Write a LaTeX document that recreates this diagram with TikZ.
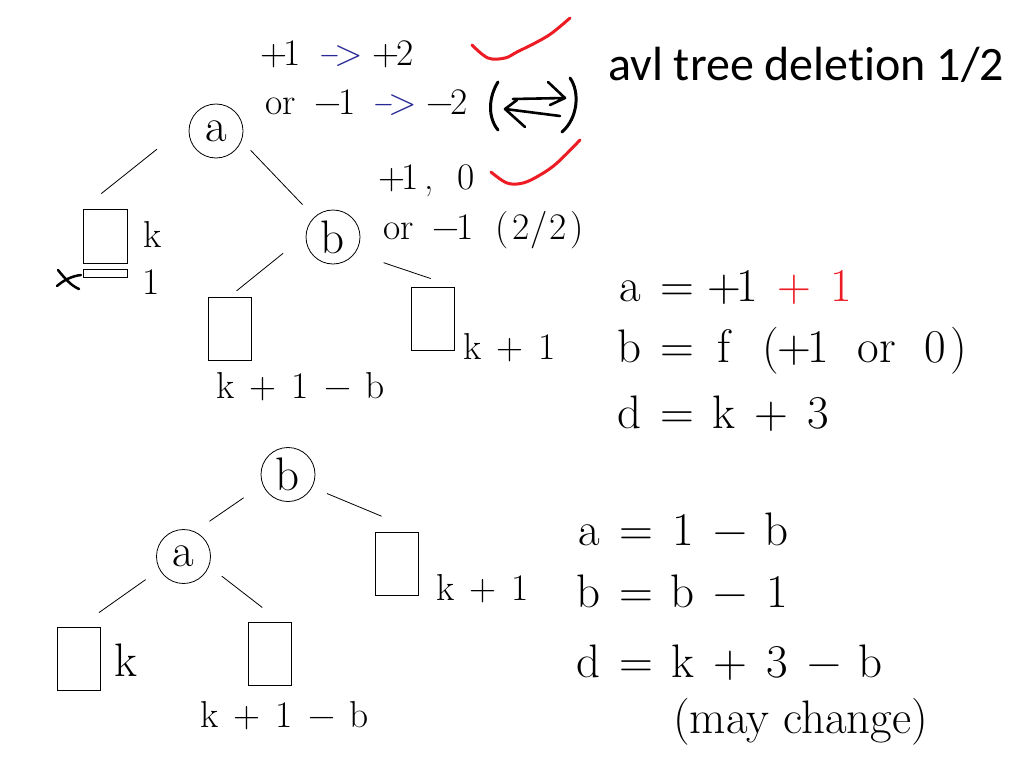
\documentclass[tikz,border=0pt]{standalone}
\usepackage{fontspec}
\newfontfamily\titlefont{Carlito}[Ligatures=NoCommon]
\usetikzlibrary{positioning,calc}
\definecolor{penred}{RGB}{237,28,36}
\definecolor{arrowblue}{RGB}{40,40,150}
\ExplSyntaxOn
\NewDocumentCommand{\mono}{m}{\str_map_inline:nn{#1}{\makebox[0.5em]{##1}}}
\ExplSyntaxOff
\newcommand{\toarrow}{\textcolor{arrowblue}{\makebox[0.5em]{\scalebox{0.7}[1]{−}}\makebox[0.5em]{>}}}
\newcommand{\orword}{\makebox[1em]{or}}
\begin{document}
\begin{tikzpicture}[x=1pt,y=-1pt,
    avl/.style={draw,circle,line width=0.8pt,minimum size=54pt,inner sep=0pt,font=\fontsize{47}{47}\selectfont},
    leaf/.style={draw,line width=0.9pt,minimum width=43pt,minimum height=63pt,inner sep=0pt},
    edge/.style={line width=0.8pt},
    small/.style={font=\fontsize{37.5}{40}\selectfont,anchor=base west,inner sep=0pt},
    large/.style={font=\fontsize{47}{50}\selectfont,anchor=base west,inner sep=0pt},
    pen/.style={line width=3pt,line cap=round,line join=round}]
        \useasboundingbox[fill=white] (0,0) rectangle (1024,768);
        \node[font=\titlefont\fontsize{48}{48}\selectfont,anchor=base west,inner sep=0pt] (title) at (608,81) {avl tree deletion 1/2};
        % before rotation
        \node[avl] (a) at (216,131) {a};
        \node[avl] (b) at (333,237) {b};
        \node[leaf,minimum width=44pt,minimum height=54pt] (L1) at (105,236) {};
        \node[leaf,minimum width=44pt,minimum height=8pt,below=6pt of L1] (X1) {};
        \node[leaf] (L2) at (229.5,328.5) {};
        \node[leaf] (R2) at (432.5,318.5) {};
        \draw[edge,shorten <=42pt,shorten >=24pt] (a.163) -- (L1.north west);
        \draw[edge,shorten <=13pt,shorten >=17pt] (a.-21) -- (b.133);
        \draw[edge,shorten <=29pt,shorten >=9pt] (b.176) -- (L2.north);
        \draw[edge,shorten <=30pt,shorten >=25pt] (b.-36) -- (R2.north east);
        \node[small] (kL1) at (143,247) {\mono{k}};
        \node[small] (oneX1) at (142,294) {\mono{1}};
        \node[small] (kL2) at (216,398) {\mono{k + 1 − b}};
        \node[small] (kR2) at (463,359) {\mono{k + 1}};
        \draw[pen,line width=2.5pt] (58,270) .. controls (66,280) and (72,286) .. (79,289);
        \draw[pen,line width=2.5pt] (57,286) .. controls (64,280) and (72,276) .. (81,275);
        \node[small] (c1) at (264,65) {\mono{+1 }\toarrow\mono{ +2}};
        \node[small] (c2) at (262,114) {\orword\mono{ −1 }\toarrow\mono{ −2}};
        \node[small] (c3) at (382,189) {\mono{+1, 0}};
        \node[small] (c4) at (380,239) {\orword\mono{ −1 (2/2)}};
        \draw[pen,penred] plot[smooth,tension=0.6] coordinates {(472,45) (488,58) (505,58) (517,52) (537,42) (552,33) (570,18)};
        \draw[pen,penred] plot[smooth,tension=0.6] coordinates {(491,172) (507,183) (523,183) (540,175) (557,163) (580,140)};
        \draw[pen] (498,82) .. controls (488,98) and (488,118) .. (498,130);
        \draw[pen] (570,78) .. controls (580,92) and (578,118) .. (562,132);
        \draw[pen,line width=2.6pt] (513,99) -- (565,98) (548,82) -- (565,98) -- (550,105);
        \draw[pen,line width=2.6pt] (560,116) -- (505,109) (517,100) -- (505,109) -- (525,127);
        \node[large] (eqa) at (618,301) {\mono{a = +1 }\textcolor{penred}{\mono{+ 1}}};
        \node[large] (eqb) at (618,362) {\mono{b = f (+1 }\orword\mono{ 0)}};
        \node[large] (eqd) at (618,428) {\mono{d = k + 3}};
        % after rotation
        \node[avl] (b2) at (288,474.5) {b};
        \node[avl] (a2) at (183.5,556.5) {a};
        \node[leaf] (L3) at (78.5,659) {};
        \node[leaf] (R4) at (269.5,653.5) {};
        \node[leaf] (R3) at (396.5,563.5) {};
        \draw[edge,shorten <=23pt,shorten >=18pt] (b2.202) -- (a2.66);
        \draw[edge,shorten <=16pt,shorten >=40pt] (b2.-28) -- (R3.north east);
        \draw[edge,shorten <=17pt,shorten >=25pt] (a2.209) -- (L3.north);
        \draw[edge,shorten <=16pt,shorten >=23pt] (a2.-21) -- ($(R4.north)!.5!(R4.north east)$);
        \node[large] (kL3) at (114,676) {\mono{k}};
        \node[small] (kR4) at (200,727) {\mono{k + 1 − b}};
        \node[small] (kR3) at (436,600) {\mono{k + 1}};
        \node[large] (eqa2) at (577,545) {\mono{a = 1 − b}};
        \node[large] (eqb2) at (577,607) {\mono{b = b − 1}};
        \node[large] (eqd2) at (577,677) {\mono{d = k + 3 − b}};
        \node[large] (note) at (673,733) {(may change)};
\end{tikzpicture}
\end{document}
